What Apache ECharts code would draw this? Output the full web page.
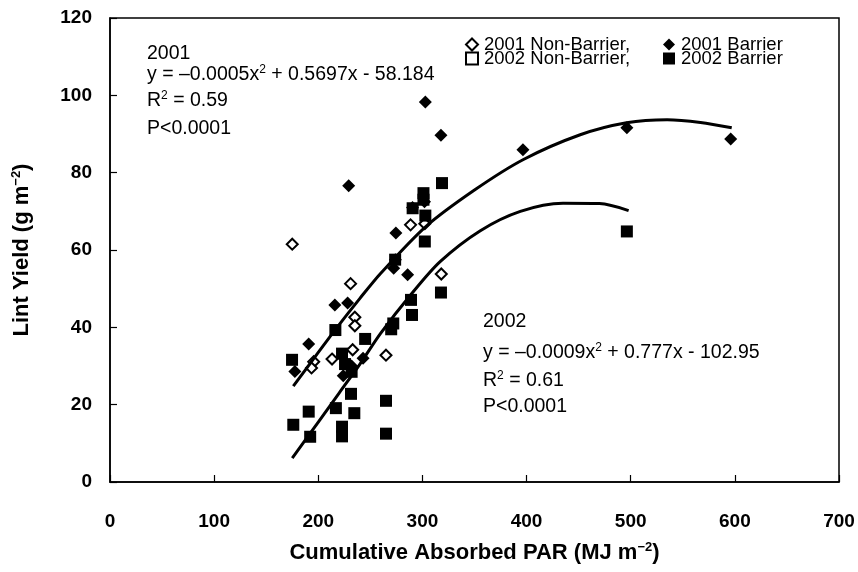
<!DOCTYPE html>
<html>
<head>
<meta charset="utf-8">
<script src="https://cdn.jsdelivr.net/npm/echarts@6/dist/echarts.min.js"></script>
<style>
html,body{margin:0;padding:0;background:#fff;}
#chart{width:858px;height:572px;}
</style>
</head>
<body>
<div id="chart"></div>
<script>
// ---- data ----
const xTicks = [0, 100, 200, 300, 400, 500, 600, 700];
const yTicks = [0, 20, 40, 60, 80, 100, 120];

const nonBarrier2001 = [[175,61.5],[195.6,31.1],[193.5,29.5],[213.2,31.8],[231,51.3],[235.1,42.6],[235.1,40.4],[233,34.2],[265,32.8],[288.6,66.5],[302.3,66.8],[318.1,53.8]];
const barrier2001 = [[177.5,28.6],[190.8,35.7],[215.9,45.8],[228.2,46.3],[229.2,76.6],[224,27.5],[232,30],[243,32],[272.4,55.3],[274.5,64.4],[274,57.5],[285.8,53.6],[290.5,71],[302.8,98.3],[302,72.5],[317.8,89.7],[396.5,85.9],[496.3,91.6],[596,88.7]];
const nonBarrier2002 = [];
const barrier2002 = [[174.8,31.6],[176,14.8],[190.8,18.2],[192.2,11.7],[216.4,39.3],[216.9,19.1],[222.8,33.2],[225.7,30.5],[222.8,14.3],[222.8,11.8],[231.4,22.8],[234.6,17.8],[232,28.5],[245,37],[265,21],[265,12.5],[270,39.5],[272,41],[273.8,57.5],[289,47.1],[290,43.2],[290.6,70.8],[301,74.7],[301,73],[302.8,68.9],[302.3,62.2],[317.8,49],[318.8,77.3],[496.3,64.8]];

const curve2001 = [[176,24.8],[200,33.5],[216,39.3],[240,47.5],[260,54],[303,66],[350,75.5],[397,83.4],[451.5,89.8],[496,92.9],[535,93.7],[567,93],[597,91.6]];
const curve2002 = [[175,6.2],[200,15.5],[220,23],[240,30.5],[260,38.5],[289,48.5],[317,57],[355.6,65],[394,70],[435,72.1],[470,72],[498,70.2]];

const FONT = 'Arial, "Liberation Sans", Helvetica, sans-serif';

const chart = echarts.init(document.getElementById('chart'), null, {renderer:'canvas'});

function legendBox(name, left, top){
  return {
    data:[name], left:left, top:top, orient:'horizontal',
    itemWidth:12, itemHeight:12, itemGap:0, padding:0,
    selectedMode:false,
    formatter: n => n.indexOf('Non') >= 0 ? n + ',' : n,
    textStyle:{fontFamily:FONT, fontSize:18.5, color:'#000', padding:[0,0,0,1]}
  };
}

function ann(text, left, top){
  return {
    type:'text', left:left, top:top, silent:true,
    style:{
      text:text, font:'19.5px ' + FONT, fill:'#000',
      rich:{
        n:{fontFamily:FONT, fontSize:19.5, lineHeight:22, color:'#000'},
        s:{fontFamily:FONT, fontSize:12, lineHeight:22, verticalAlign:'top', color:'#000'}
      }
    }
  };
}

const option = {
  backgroundColor:'#fff',
  animation:false,
  grid:{left:110, right:19, top:18, bottom:90, show:true, borderColor:'#000', borderWidth:1.5, containLabel:false},
  legend:[
    legendBox('2001 Non-Barrier', 465, 35),
    legendBox('2001 Barrier', 663, 35),
    legendBox('2002 Non-Barrier', 465, 49),
    legendBox('2002 Barrier', 663, 49)
  ],
  xAxis:{
    type:'value', min:xTicks[0], max:xTicks[xTicks.length-1], interval:100,
    name:'Cumulative Absorbed PAR (MJ m{s|−2})',
    nameLocation:'middle', nameGap:59,
    nameTextStyle:{fontFamily:FONT, fontSize:22, fontWeight:'bold', color:'#000',
      rich:{s:{fontFamily:FONT, fontSize:13, fontWeight:'bold', verticalAlign:'top', lineHeight:24, color:'#000'}}},
    axisLine:{show:true, lineStyle:{color:'#000', width:1.5}},
    axisTick:{show:true, inside:true, length:7, lineStyle:{color:'#000', width:1.2}},
    axisLabel:{fontFamily:FONT, fontSize:19, fontWeight:'bold', color:'#000', margin:30},
    splitLine:{show:false}
  },
  yAxis:{
    type:'value', min:yTicks[0], max:yTicks[yTicks.length-1], interval:20,
    name:'Lint Yield (g m{s|−2})',
    nameLocation:'middle', nameGap:76, nameRotate:90,
    nameTextStyle:{fontFamily:FONT, fontSize:22, fontWeight:'bold', color:'#000',
      rich:{s:{fontFamily:FONT, fontSize:13, fontWeight:'bold', verticalAlign:'top', lineHeight:24, color:'#000'}}},
    axisLine:{show:true, lineStyle:{color:'#000', width:1.5}},
    axisTick:{show:true, inside:true, length:7, lineStyle:{color:'#000', width:1.2}},
    axisLabel:{fontFamily:FONT, fontSize:19, fontWeight:'bold', color:'#000', margin:18},
    splitLine:{show:false}
  },
  series:[
    {name:'2001 Non-Barrier', type:'scatter', data:nonBarrier2001, symbol:'diamond', symbolSize:11,
      itemStyle:{color:'#fff', borderColor:'#000', borderWidth:2, opacity:1}, z:3},
    {name:'2001 Barrier', type:'scatter', data:barrier2001, symbol:'diamond', symbolSize:13,
      itemStyle:{color:'#000', opacity:1}, z:3},
    {name:'2002 Non-Barrier', type:'scatter', data:nonBarrier2002, symbol:'rect', symbolSize:11,
      itemStyle:{color:'#fff', borderColor:'#000', borderWidth:1.5, opacity:1}, z:3},
    {name:'2002 Barrier', type:'scatter', data:barrier2002, symbol:'rect', symbolSize:12,
      itemStyle:{color:'#000', opacity:1}, z:3},
    {name:'fit2001', type:'line', data:curve2001, smooth:0.3, showSymbol:false, symbol:'none',
      lineStyle:{color:'#000', width:3}, z:4, silent:true},
    {name:'fit2002', type:'line', data:curve2002, smooth:0.3, showSymbol:false, symbol:'none',
      lineStyle:{color:'#000', width:3}, z:4, silent:true}
  ],
  graphic:[
    ann('{n|2001}', 147, 44),
    ann('{n|y = –0.0005x}{s|2}{n| + 0.5697x - 58.184}', 147, 64),
    ann('{n|R}{s|2}{n| = 0.59}', 147, 90),
    ann('{n|P<0.0001}', 147, 119),
    ann('{n|2002}', 483, 312),
    ann('{n|y = –0.0009x}{s|2}{n| + 0.777x - 102.95}', 483, 342),
    ann('{n|R}{s|2}{n| = 0.61}', 483, 370),
    ann('{n|P<0.0001}', 483, 397)
  ]
};
chart.setOption(option);
</script>
</body>
</html>
